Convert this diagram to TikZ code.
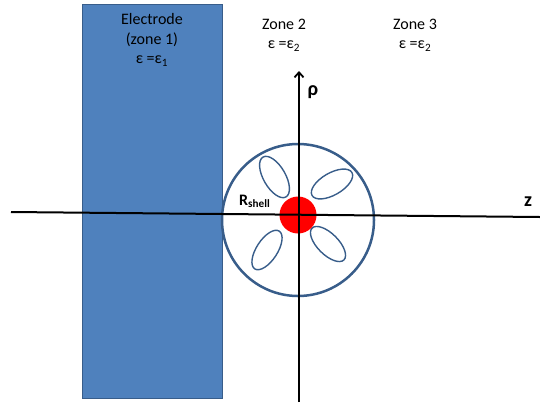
\documentclass[tikz,border=0pt]{standalone}
\usepackage{fontspec}
\setmainfont{Carlito}
\usetikzlibrary{arrows.meta}
\definecolor{electrodeblue}{HTML}{4F81BD}
\definecolor{edgeblue}{HTML}{385D8A}

\begin{document}
\begin{tikzpicture}[x=1pt, y=-1pt,
        zonetext/.style={align=center, inner sep=0pt, font=\fontsize{16}{19.5}\selectfont},
        axislabel/.style={inner sep=0pt, font=\fontsize{20}{24}\selectfont\bfseries},
        lobe/.style={draw=edgeblue, line width=1.4pt}]
        \useasboundingbox (0,0) rectangle (540,402);
        \fill[electrodeblue, draw=edgeblue, line width=1pt] (82,4) rectangle (222,398);
        \node[zonetext] (electrode) at (152,40) {Electrode\\(zone 1)\\ε =ε\textsubscript{1}};
        \node[zonetext] (zonetwo) at (284,35) {Zone 2\\ε =ε\textsubscript{2}};
        \node[zonetext] (zonethree) at (415,35) {Zone 3\\ε =ε\textsubscript{2}};
        \draw[edgeblue, line width=2.5pt] (298,220) circle (76);
        \foreach \px/\py/\ang/\rx/\ry in {274.5/177/120/23/11, 332/184/30/23/11,
                267/250/57/22.5/10.5, 328/244/-45/22.5/10.5}{
            \draw[lobe, rotate around={\ang:(\px,\py)}] (\px,\py) ellipse [x radius=\rx, y radius=\ry];
        }
        \fill[red] (298,215) circle (18.5);
        \coordinate (zstart) at (11,212);
        \coordinate (zend) at (540,217);
        \coordinate (rhostart) at (299,402);
        \coordinate (rhoend) at (299,71);
        \draw[line width=2pt] (zstart) -- (zend);
        \draw[line width=1.8pt, -{Straight Barb[length=5pt,width=9pt]}] (rhostart) -- (rhoend);
        \node[axislabel] (zlabel) at (528,202) {z};
        \node[axislabel] (rholabel) at (313,92) {ρ};
        \node[inner sep=0pt, anchor=base west, font=\fontsize{16}{19}\selectfont\bfseries] (rshell) at (239,205) {R\textsubscript{shell}};
    \end{tikzpicture}
\end{document}
